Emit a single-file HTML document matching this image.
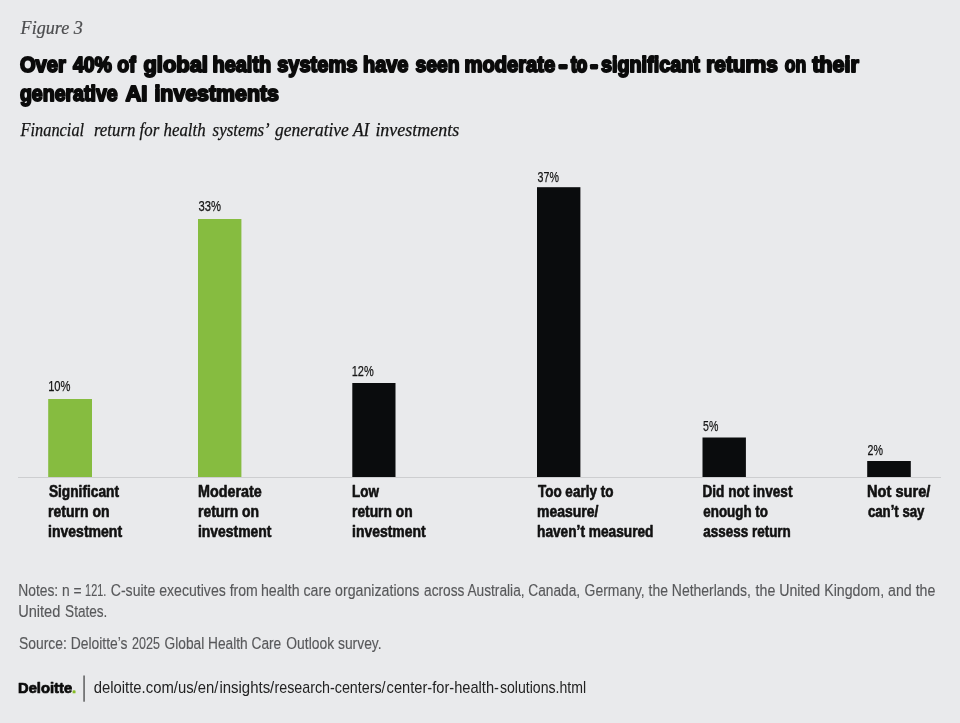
<!DOCTYPE html>
<html lang="en">
<head>
<meta charset="utf-8">
<title>Figure 3</title>
<style>
html,body{margin:0;padding:0;background:#e9eaec;}
body{width:960px;height:723px;overflow:hidden;}
svg{display:block;}
text{white-space:pre;}
.fig{font:italic 18.3px "Liberation Serif",serif;fill:#4c4d4f;stroke:#4c4d4f;stroke-width:0.2px;stroke-linejoin:round;}
.sub{font:italic 18.1px "Liberation Serif",serif;fill:#141414;stroke:#141414;stroke-width:0.25px;stroke-linejoin:round;}
.title{font:bold 21.3px "Liberation Sans",sans-serif;fill:#0b0b0b;stroke:#0b0b0b;stroke-width:1.9px;stroke-linejoin:round;}
.val{font:15.4px "Liberation Sans",sans-serif;fill:#141414;stroke:#141414;stroke-width:0.25px;stroke-linejoin:round;}
.cat{font:bold 15.7px "Liberation Sans",sans-serif;fill:#111111;stroke:#111111;stroke-width:0.6px;stroke-linejoin:round;}
.note{font:16.3px "Liberation Sans",sans-serif;fill:#58595b;stroke:#58595b;stroke-width:0.15px;stroke-linejoin:round;}
.url{font:16.4px "Liberation Sans",sans-serif;fill:#222222;}
.logo{font:bold 14px "Liberation Sans",sans-serif;fill:#0b0b0b;stroke:#0b0b0b;stroke-width:0.7px;stroke-linejoin:round;}
</style>
</head>
<body>
<svg width="960" height="723" viewBox="0 0 960 723">
<rect x="0" y="0" width="960" height="723" fill="#e9eaec"/>
<rect x="18" y="477.0" width="923" height="1" fill="#cdced0"/>
<rect x="48.2" y="399.0" width="43.8" height="78.0" fill="#86bc40"/>
<rect x="198.0" y="219.0" width="43.4" height="258.0" fill="#86bc40"/>
<rect x="352.3" y="383.0" width="43.2" height="94.0" fill="#0a0c0d"/>
<rect x="537.0" y="187.2" width="43.4" height="289.8" fill="#0a0c0d"/>
<rect x="702.5" y="437.5" width="43.4" height="39.5" fill="#0a0c0d"/>
<rect x="867.2" y="461.0" width="43.6" height="16.0" fill="#0a0c0d"/>
<text class="fig" y="34.0"><tspan x="20.59" textLength="62.25" lengthAdjust="spacingAndGlyphs">Figure 3</tspan></text>
<text class="title" y="72.0"><tspan x="19.95" textLength="45.87" lengthAdjust="spacingAndGlyphs">Over</tspan> <tspan x="72.95" textLength="62.77" lengthAdjust="spacingAndGlyphs">40% of</tspan> <tspan x="143.45" textLength="64.54" lengthAdjust="spacingAndGlyphs">global</tspan> <tspan x="212.51" textLength="58.73" lengthAdjust="spacingAndGlyphs">health</tspan> <tspan x="277.20" textLength="80.14" lengthAdjust="spacingAndGlyphs">systems</tspan> <tspan x="363.01" textLength="45.39" lengthAdjust="spacingAndGlyphs">have</tspan> <tspan x="415.45" textLength="44.01" lengthAdjust="spacingAndGlyphs">seen</tspan> <tspan x="464.50" textLength="90.70" lengthAdjust="spacingAndGlyphs">moderate</tspan><tspan x="559.00" textLength="8.11" lengthAdjust="spacingAndGlyphs" style="stroke-width:2.8px">-</tspan><tspan x="571.10" textLength="16.01" lengthAdjust="spacingAndGlyphs" style="stroke-width:2.6px">to</tspan><tspan x="590.60" textLength="7.09" lengthAdjust="spacingAndGlyphs" style="stroke-width:2.8px">-</tspan><tspan x="600.95" textLength="98.94" lengthAdjust="spacingAndGlyphs">significant</tspan> <tspan x="706.22" textLength="71.65" lengthAdjust="spacingAndGlyphs">returns</tspan> <tspan x="784.70" textLength="21.43" lengthAdjust="spacingAndGlyphs">on</tspan> <tspan x="812.20" textLength="46.64" lengthAdjust="spacingAndGlyphs">their</tspan></text>
<text class="title" y="101.2"><tspan x="19.95" textLength="97.71" lengthAdjust="spacingAndGlyphs">generative</tspan> <tspan x="125.45" textLength="22.05" lengthAdjust="spacingAndGlyphs">AI</tspan> <tspan x="154.45" textLength="124.45" lengthAdjust="spacingAndGlyphs">investments</tspan></text>
<text class="sub" y="136.25"><tspan x="20.53" textLength="63.62" lengthAdjust="spacingAndGlyphs">Financial</tspan> <tspan x="93.88" textLength="111.79" lengthAdjust="spacingAndGlyphs">return for health</tspan> <tspan x="212.62" textLength="55.27" lengthAdjust="spacingAndGlyphs">systems’</tspan> <tspan x="275.12" textLength="94.31" lengthAdjust="spacingAndGlyphs">generative AI</tspan> <tspan x="375.38" textLength="83.78" lengthAdjust="spacingAndGlyphs">investments</tspan></text>
<text class="val" y="390.6"><tspan x="48.15" textLength="22.40" lengthAdjust="spacingAndGlyphs">10%</tspan></text>
<text class="val" y="211.3"><tspan x="198.62" textLength="22.52" lengthAdjust="spacingAndGlyphs">33%</tspan></text>
<text class="val" y="376.4"><tspan x="351.71" textLength="22.04" lengthAdjust="spacingAndGlyphs">12%</tspan></text>
<text class="val" y="181.6"><tspan x="537.62" textLength="21.33" lengthAdjust="spacingAndGlyphs">37%</tspan></text>
<text class="val" y="431.3"><tspan x="703.12" textLength="15.28" lengthAdjust="spacingAndGlyphs">5%</tspan></text>
<text class="val" y="454.7"><tspan x="867.62" textLength="15.43" lengthAdjust="spacingAndGlyphs">2%</tspan></text>
<text class="cat" y="497.4"><tspan x="48.90" textLength="70.12" lengthAdjust="spacingAndGlyphs">Significant</tspan></text>
<text class="cat" y="517.4"><tspan x="48.01" textLength="61.62" lengthAdjust="spacingAndGlyphs">return on</tspan></text>
<text class="cat" y="536.9"><tspan x="48.01" textLength="74.10" lengthAdjust="spacingAndGlyphs">investment</tspan></text>
<text class="cat" y="497.4"><tspan x="197.99" textLength="63.76" lengthAdjust="spacingAndGlyphs">Moderate</tspan></text>
<text class="cat" y="517.4"><tspan x="198.01" textLength="61.10" lengthAdjust="spacingAndGlyphs">return on</tspan></text>
<text class="cat" y="536.9"><tspan x="198.01" textLength="73.50" lengthAdjust="spacingAndGlyphs">investment</tspan></text>
<text class="cat" y="497.4"><tspan x="352.04" textLength="26.97" lengthAdjust="spacingAndGlyphs">Low</tspan></text>
<text class="cat" y="517.4"><tspan x="352.02" textLength="60.59" lengthAdjust="spacingAndGlyphs">return on</tspan></text>
<text class="cat" y="536.9"><tspan x="352.01" textLength="73.70" lengthAdjust="spacingAndGlyphs">investment</tspan></text>
<text class="cat" y="497.4"><tspan x="537.90" textLength="75.50" lengthAdjust="spacingAndGlyphs">Too early to</tspan></text>
<text class="cat" y="517.4"><tspan x="537.01" textLength="61.42" lengthAdjust="spacingAndGlyphs">measure/</tspan></text>
<text class="cat" y="536.9"><tspan x="537.03" textLength="116.48" lengthAdjust="spacingAndGlyphs">haven’t measured</tspan></text>
<text class="cat" y="497.4"><tspan x="702.43" textLength="89.99" lengthAdjust="spacingAndGlyphs">Did not invest</tspan></text>
<text class="cat" y="517.4"><tspan x="703.30" textLength="64.70" lengthAdjust="spacingAndGlyphs">enough to</tspan></text>
<text class="cat" y="536.9"><tspan x="703.30" textLength="87.50" lengthAdjust="spacingAndGlyphs">assess return</tspan></text>
<text class="cat" y="497.4"><tspan x="866.97" textLength="63.38" lengthAdjust="spacingAndGlyphs">Not sure/</tspan></text>
<text class="cat" y="517.4"><tspan x="867.90" textLength="56.57" lengthAdjust="spacingAndGlyphs">can’t say</tspan></text>
<text class="note" y="595.5"><tspan x="18.23" textLength="63.43" lengthAdjust="spacingAndGlyphs">Notes: n =</tspan> <tspan x="85.11" textLength="21.17" lengthAdjust="spacingAndGlyphs">121.</tspan> <tspan x="110.78" textLength="147.04" lengthAdjust="spacingAndGlyphs">C-suite executives from</tspan> <tspan x="260.95" textLength="158.49" lengthAdjust="spacingAndGlyphs">health care organizations</tspan> <tspan x="424.07" textLength="156.09" lengthAdjust="spacingAndGlyphs">across Australia, Canada,</tspan> <tspan x="584.58" textLength="166.30" lengthAdjust="spacingAndGlyphs">Germany, the Netherlands,</tspan> <tspan x="755.58" textLength="179.80" lengthAdjust="spacingAndGlyphs">the United Kingdom, and the</tspan></text>
<text class="note" y="617.1"><tspan x="18.18" textLength="42.19" lengthAdjust="spacingAndGlyphs">United</tspan> <tspan x="65.08" textLength="42.29" lengthAdjust="spacingAndGlyphs">States.</tspan></text>
<text class="note" y="648.6"><tspan x="19.07" textLength="108.47" lengthAdjust="spacingAndGlyphs">Source: Deloitte’s</tspan> <tspan x="132.07" textLength="27.89" lengthAdjust="spacingAndGlyphs">2025</tspan> <tspan x="164.57" textLength="116.65" lengthAdjust="spacingAndGlyphs">Global Health Care</tspan> <tspan x="286.32" textLength="95.30" lengthAdjust="spacingAndGlyphs">Outlook survey.</tspan></text>
<text class="url" y="693.4"><tspan x="93.75" textLength="124.60" lengthAdjust="spacingAndGlyphs">deloitte.com/us/en/</tspan><tspan x="219.39" textLength="54.91" lengthAdjust="spacingAndGlyphs">insights/</tspan><tspan x="274.43" textLength="111.18" lengthAdjust="spacingAndGlyphs">research-centers/</tspan><tspan x="386.60" textLength="112.31" lengthAdjust="spacingAndGlyphs">center-for-health-</tspan><tspan x="500.00" textLength="86.05" lengthAdjust="spacingAndGlyphs">solutions.html</tspan></text>
<text class="logo" x="18.0" y="693.1" textLength="58.2" lengthAdjust="spacingAndGlyphs">Deloitte<tspan fill="#86bc25" stroke="#86bc25">.</tspan></text>
<rect x="83.5" y="675.5" width="1.1" height="26.2" fill="#2a2a2a"/>
</svg>
</body>
</html>
